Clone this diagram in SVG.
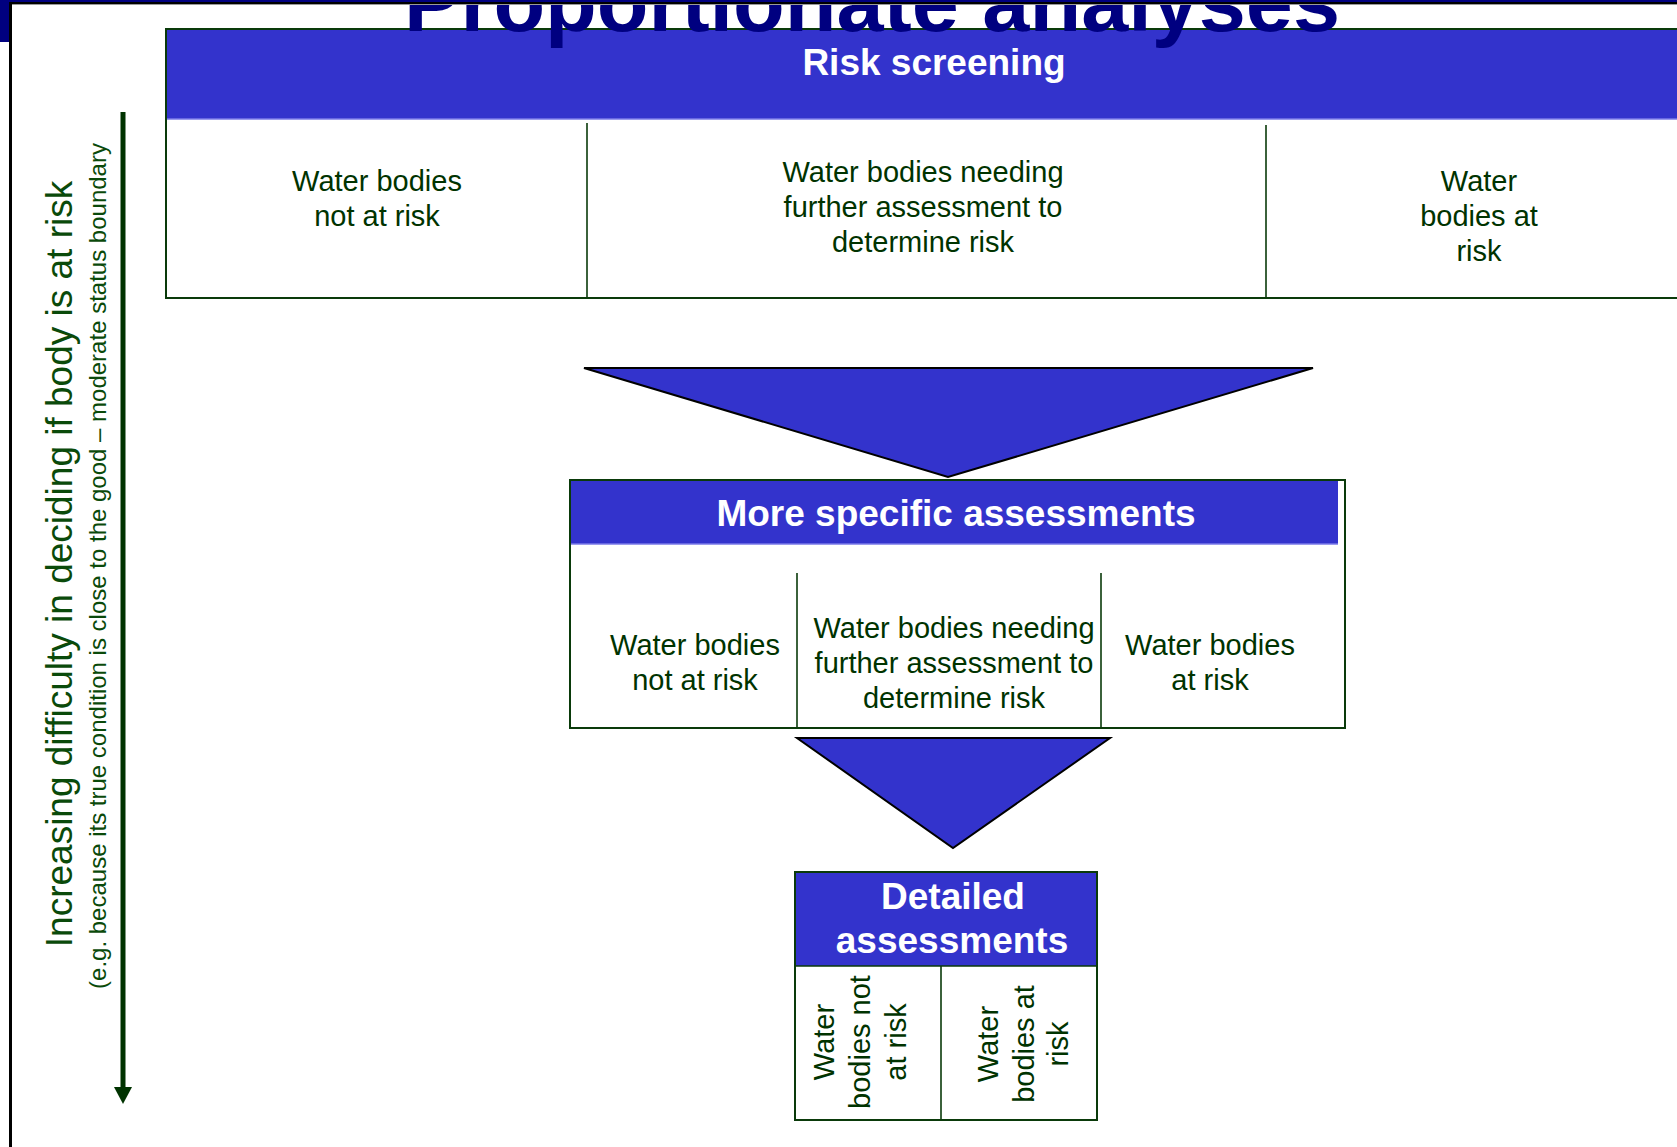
<svg xmlns="http://www.w3.org/2000/svg" width="1677" height="1147" viewBox="0 0 1677 1147">
<defs>
<style>
.frame{fill:#fff;stroke:#0a3a0a;stroke-width:2}
.hdr{fill:#3333CC}
.hl{stroke:#7a7ae8;stroke-width:1.5}
.div{stroke:#0a3a0a;stroke-width:1.6}
.ht{font-family:"Liberation Sans",Arial,sans-serif;font-weight:bold;fill:#fff;font-size:37px;text-anchor:middle}
.ct{font-family:"Liberation Sans",Arial,sans-serif;fill:#003300;font-size:29px;text-anchor:middle}
.tri{fill:#3333CC;stroke:#000;stroke-width:2;stroke-linejoin:miter}
.side{font-family:"Liberation Sans",Arial,sans-serif;fill:#0a4a0a;text-anchor:middle}
</style>
<marker id="ah" viewBox="0 0 17 18" refX="1" refY="9" markerWidth="17" markerHeight="18" markerUnits="userSpaceOnUse" orient="auto">
<path d="M0,0 L17,9 L0,18 Z" fill="#003300"/>
</marker>
</defs>
<rect x="0" y="0" width="1677" height="1147" fill="#fff"/>

<g id="risk-screening">
<rect class="frame" x="166" y="29" width="1530" height="269"/>
<rect class="hdr" x="167" y="30" width="1520" height="89"/>
<line class="hl" x1="167" y1="119" x2="1677" y2="119"/>
<text class="ht" x="934" y="75">Risk screening</text>
<line class="div" x1="587" y1="123" x2="587" y2="298"/>
<line class="div" x1="1266" y1="125" x2="1266" y2="298"/>
<text class="ct" x="377" y="191">Water bodies</text>
<text class="ct" x="377" y="226">not at risk</text>
<text class="ct" x="923" y="182">Water bodies needing</text>
<text class="ct" x="923" y="217">further assessment to</text>
<text class="ct" x="923" y="252">determine risk</text>
<text class="ct" x="1479" y="191">Water</text>
<text class="ct" x="1479" y="226">bodies at</text>
<text class="ct" x="1479" y="261">risk</text>
</g>

<g id="title">
<text x="872" y="31" font-family="Liberation Sans, Arial, sans-serif" font-weight="bold" font-size="84" fill="#000080" text-anchor="middle" textLength="936" lengthAdjust="spacingAndGlyphs">Proportionate analyses</text>
</g>

<g id="page-frame">
<rect x="0" y="0" width="1677" height="3" fill="#000080"/>
<rect x="0" y="0" width="10" height="42" fill="#000080"/>
<rect x="9" y="2" width="1668" height="2" fill="#000"/>
<rect x="12" y="4" width="1665" height="1" fill="#999"/>
<rect x="9" y="2" width="3" height="1145" fill="#000"/>
</g>

<g id="connectors">
<polygon class="tri" points="584,368 1313,368 948,477"/>
<polygon class="tri" points="797,738 1110,738 953,848"/>
<line x1="123" y1="112" x2="123" y2="1088" stroke="#003300" stroke-width="5" marker-end="url(#ah)"/>
</g>

<g id="more-specific">
<rect class="frame" x="570" y="480" width="775" height="248"/>
<rect class="hdr" x="571" y="481" width="767" height="63"/>
<line class="hl" x1="571" y1="544" x2="1338" y2="544"/>
<text class="ht" x="956" y="526">More specific assessments</text>
<line class="div" x1="797" y1="573" x2="797" y2="728"/>
<line class="div" x1="1101" y1="573" x2="1101" y2="728"/>
<text class="ct" x="695" y="655">Water bodies</text>
<text class="ct" x="695" y="690">not at risk</text>
<text class="ct" x="954" y="638">Water bodies needing</text>
<text class="ct" x="954" y="673">further assessment to</text>
<text class="ct" x="954" y="708">determine risk</text>
<text class="ct" x="1210" y="655">Water bodies</text>
<text class="ct" x="1210" y="690">at risk</text>
</g>

<g id="detailed">
<rect class="frame" x="795" y="872" width="302" height="248"/>
<rect class="hdr" x="796" y="873" width="300" height="93"/>
<line class="div" x1="795" y1="966" x2="1097" y2="966"/>
<text class="ht" x="953" y="909">Detailed</text>
<text class="ht" x="952" y="953">assessments</text>
<line class="div" x1="941" y1="966" x2="941" y2="1120"/>
<text class="ct" transform="translate(834,1042) rotate(-90)" x="0" y="0">Water</text>
<text class="ct" transform="translate(870,1042) rotate(-90)" x="0" y="0">bodies not</text>
<text class="ct" transform="translate(906,1042) rotate(-90)" x="0" y="0">at risk</text>
<text class="ct" transform="translate(998,1044) rotate(-90)" x="0" y="0">Water</text>
<text class="ct" transform="translate(1034,1044) rotate(-90)" x="0" y="0">bodies at</text>
<text class="ct" transform="translate(1068,1044) rotate(-90)" x="0" y="0">risk</text>
</g>

<g id="difficulty-axis">
<text class="side" font-size="37" transform="translate(72,564) rotate(-90)">Increasing difficulty in deciding if body is at risk</text>
<text class="side" font-size="24" transform="translate(106,566) rotate(-90)">(e.g. because its true condition is close to the good – moderate status boundary</text>
</g>
</svg>
